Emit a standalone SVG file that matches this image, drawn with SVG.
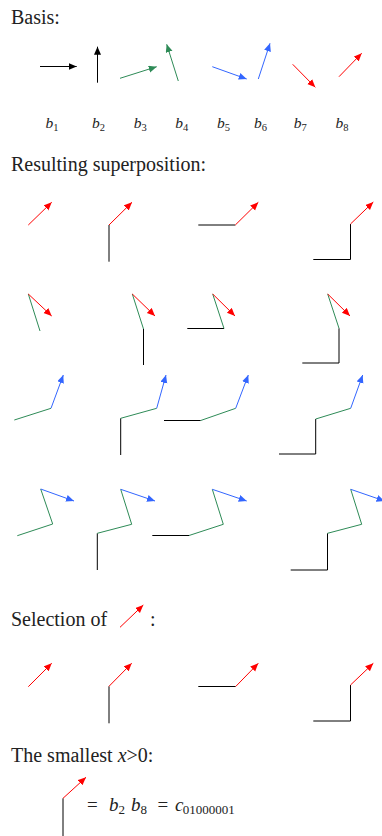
<svg xmlns="http://www.w3.org/2000/svg" width="382" height="836" viewBox="0 0 382 836">
<style>
text{font-family:"Liberation Serif","Times New Roman",serif;fill:#222}
.h{font-size:20px}
.lab{font-size:15.5px;font-style:italic}
.sub{font-size:10.5px;font-style:normal}
line{stroke-width:1;fill:none}
.k{stroke:#000}
.g{stroke:#2e8b57}
.b{stroke:#3366ff}
.r{stroke:#ff0000}
.ak{marker-end:url(#mk)}
.ag{marker-end:url(#mg)}
.ab{marker-end:url(#mb)}
.ar{marker-end:url(#mr)}
</style>
<defs>
<marker id="mk" markerUnits="userSpaceOnUse" markerWidth="9" markerHeight="8" refX="8" refY="3.5" orient="auto"><path d="M0,0 L8,3.5 L0,7 z" fill="#000"/></marker>
<marker id="mg" markerUnits="userSpaceOnUse" markerWidth="9" markerHeight="8" refX="8" refY="3.5" orient="auto"><path d="M0,0 L8,3.5 L0,7 z" fill="#2e8b57"/></marker>
<marker id="mb" markerUnits="userSpaceOnUse" markerWidth="9" markerHeight="8" refX="8" refY="3.5" orient="auto"><path d="M0,0 L8,3.5 L0,7 z" fill="#3366ff"/></marker>
<marker id="mr" markerUnits="userSpaceOnUse" markerWidth="9" markerHeight="8" refX="8" refY="3.5" orient="auto"><path d="M0,0 L8,3.5 L0,7 z" fill="#ff0000"/></marker>
</defs>

<g id="basis">
<text class="h" x="11" y="24">Basis:</text>
<g id="b1"><line class="k ak" x1="40" y1="66.5" x2="76.7" y2="66.5"/><text class="lab" x="45.5" y="128">b<tspan class="sub" dy="3">1</tspan></text></g>
<g id="b2"><line class="k ak" x1="97.5" y1="82.7" x2="97.5" y2="46.7"/><text class="lab" x="92" y="128">b<tspan class="sub" dy="3">2</tspan></text></g>
<g id="b3"><line class="g ag" x1="120" y1="78.3" x2="156.7" y2="66.7"/><text class="lab" x="133.7" y="128">b<tspan class="sub" dy="3">3</tspan></text></g>
<g id="b4"><line class="g ag" x1="178.3" y1="81" x2="166.7" y2="44.3"/><text class="lab" x="175.3" y="128">b<tspan class="sub" dy="3">4</tspan></text></g>
<g id="b5"><line class="b ab" x1="212.3" y1="66.7" x2="246.7" y2="79"/><text class="lab" x="217" y="128">b<tspan class="sub" dy="3">5</tspan></text></g>
<g id="b6"><line class="b ab" x1="258.3" y1="79" x2="270" y2="43.3"/><text class="lab" x="254" y="128">b<tspan class="sub" dy="3">6</tspan></text></g>
<g id="b7"><line class="r ar" x1="292.7" y1="64.3" x2="315.3" y2="87.3"/><text class="lab" x="293.7" y="128">b<tspan class="sub" dy="3">7</tspan></text></g>
<g id="b8"><line class="r ar" x1="339" y1="76.7" x2="361.7" y2="53.3"/><text class="lab" x="335.4" y="128">b<tspan class="sub" dy="3">8</tspan></text></g>
</g>

<text class="h" x="11" y="170.5">Resulting superposition:</text>

<g id="row1">
<g id="r1c1"><line class="r ar" x1="28.3" y1="225" x2="51.7" y2="202.3"/></g>
<g id="r1c2"><line class="k" x1="109" y1="261.7" x2="109" y2="225"/><line class="r ar" x1="109" y1="225" x2="132" y2="202.3"/></g>
<g id="r1c3"><line class="k" x1="198.3" y1="225" x2="235.3" y2="225"/><line class="r ar" x1="235.3" y1="225" x2="258.3" y2="202.3"/></g>
<g id="r1c4"><line class="k" x1="313.3" y1="259.5" x2="350.5" y2="259.5"/><line class="k" x1="350.5" y1="259.5" x2="350.5" y2="224"/><line class="r ar" x1="350.5" y1="224" x2="373.3" y2="202"/></g>
</g>

<g id="row2">
<g id="r2c1"><line class="g" x1="40" y1="331" x2="28.3" y2="294"/><line class="r ar" x1="28.3" y1="294" x2="51.7" y2="316"/></g>
<g id="r2c2"><line class="k" x1="143.5" y1="365" x2="143.5" y2="329"/><line class="g" x1="143.5" y1="329" x2="132.3" y2="294"/><line class="r ar" x1="132.3" y1="294" x2="155" y2="316"/></g>
<g id="r2c3"><line class="k" x1="187.3" y1="328.5" x2="224" y2="328.5"/><line class="g" x1="224" y1="328.5" x2="212.7" y2="294"/><line class="r ar" x1="212.7" y1="294" x2="235" y2="316"/></g>
<g id="r2c4"><line class="k" x1="302.3" y1="363" x2="339" y2="363"/><line class="k" x1="339" y1="363" x2="339" y2="328.3"/><line class="g" x1="339" y1="328.3" x2="327.7" y2="294"/><line class="r ar" x1="327.7" y1="294" x2="350" y2="316"/></g>
</g>

<g id="row3">
<g id="r3c1"><line class="g" x1="14.3" y1="420" x2="51" y2="408.3"/><line class="b ab" x1="51" y1="408.3" x2="63.3" y2="375"/></g>
<g id="r3c2"><line class="k" x1="120.7" y1="455" x2="120.7" y2="418.3"/><line class="g" x1="120.7" y1="418.3" x2="156.7" y2="408.3"/><line class="b ab" x1="156.7" y1="408.3" x2="166" y2="375"/></g>
<g id="r3c3"><line class="k" x1="164" y1="420.5" x2="200.7" y2="420.5"/><line class="g" x1="200.7" y1="420.5" x2="235.7" y2="408.3"/><line class="b ab" x1="235.7" y1="408.3" x2="248.3" y2="375"/></g>
<g id="r3c4"><line class="k" x1="279" y1="454" x2="315.7" y2="454"/><line class="k" x1="315.7" y1="454" x2="315.7" y2="419"/><line class="g" x1="315.7" y1="419" x2="350.7" y2="408.3"/><line class="b ab" x1="350.7" y1="408.3" x2="362.7" y2="375"/></g>
</g>

<g id="row4">
<g id="r4c1"><line class="g" x1="17.3" y1="535.7" x2="52.7" y2="524"/><line class="g" x1="52.7" y1="524" x2="40.7" y2="489"/><line class="b ab" x1="40.7" y1="489" x2="74" y2="501"/></g>
<g id="r4c2"><line class="k" x1="97.3" y1="570" x2="97.3" y2="533.3"/><line class="g" x1="97.3" y1="533.3" x2="131.7" y2="524.3"/><line class="g" x1="131.7" y1="524.3" x2="120.7" y2="489.3"/><line class="b ab" x1="120.7" y1="489.3" x2="155" y2="501"/></g>
<g id="r4c3"><line class="k" x1="152.3" y1="535.5" x2="189" y2="535.5"/><line class="g" x1="189" y1="535.5" x2="223.3" y2="524.3"/><line class="g" x1="223.3" y1="524.3" x2="212.3" y2="489.3"/><line class="b ab" x1="212.3" y1="489.3" x2="246.7" y2="501"/></g>
<g id="r4c4"><line class="k" x1="290.7" y1="570" x2="327.5" y2="570"/><line class="k" x1="327.5" y1="570" x2="327.5" y2="533.3"/><line class="g" x1="327.5" y1="533.3" x2="361.7" y2="524.3"/><line class="g" x1="361.7" y1="524.3" x2="350.7" y2="489.3"/><line class="b ab" x1="350.7" y1="489.3" x2="384.5" y2="501"/></g>
</g>

<g id="selection">
<text class="h" x="11" y="626">Selection of</text>
<line class="r ar" x1="120" y1="627.3" x2="143.3" y2="605"/>
<text class="h" x="150" y="626">:</text>
<g id="s1"><line class="r ar" x1="28.3" y1="686.7" x2="51.7" y2="663.3"/></g>
<g id="s2"><line class="k" x1="109" y1="723.3" x2="109" y2="686.3"/><line class="r ar" x1="109" y1="686.3" x2="131.7" y2="663.3"/></g>
<g id="s3"><line class="k" x1="198.3" y1="686.5" x2="235.7" y2="686.5"/><line class="r ar" x1="235.7" y1="686.5" x2="258.3" y2="663.3"/></g>
<g id="s4"><line class="k" x1="313.3" y1="721" x2="350.5" y2="721"/><line class="k" x1="350.5" y1="721" x2="350.5" y2="685"/><line class="r ar" x1="350.5" y1="685" x2="373.3" y2="663.3"/></g>
</g>

<g id="smallest">
<text class="h" x="11" y="762">The smallest <tspan font-style="italic">x</tspan>&gt;0:</text>
<line class="k" x1="63" y1="836" x2="63" y2="798.3"/>
<line class="r ar" x1="63" y1="798.3" x2="86" y2="777.3"/>
<text font-size="19" x="87" y="811">=</text>
<text font-size="19" font-style="italic" x="109" y="811">b</text>
<text font-size="13" x="118.5" y="814">2</text>
<text font-size="19" font-style="italic" x="131" y="811">b</text>
<text font-size="13" x="140.5" y="814">8</text>
<text font-size="19" x="157.5" y="811">=</text>
<text font-size="19" font-style="italic" x="175" y="811">c</text>
<text font-size="13" x="182.7" y="814">01000001</text>
</g>
</svg>
